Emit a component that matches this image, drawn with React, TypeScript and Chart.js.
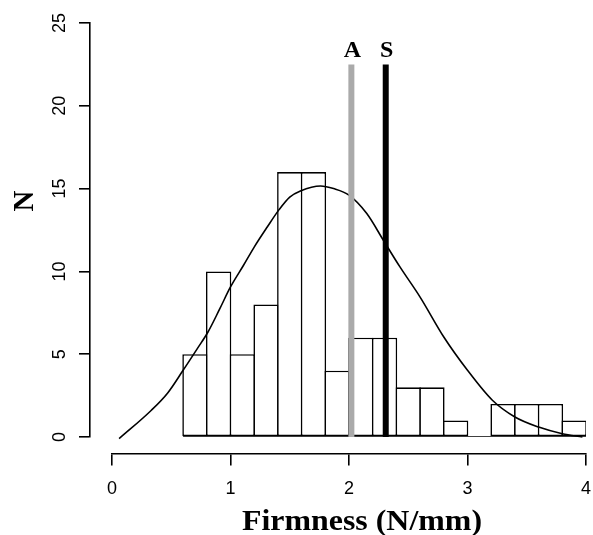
import { useEffect, useRef } from 'react';
import { Chart, registerables } from 'chart.js';

Chart.register(...registerables);

// Histogram bins (left edges), common width and counts
const binStarts = [0.6, 0.8, 1.0, 1.2, 1.4, 1.6, 1.8, 2.0, 2.2, 2.4, 2.6, 2.8, 3.0, 3.2, 3.4, 3.6, 3.8];
const binWidth = 0.2;
const binCounts = [5, 10, 5, 8, 16, 16, 4, 6, 6, 3, 3, 1, 0, 2, 2, 2, 1];

// Fitted density curve (scaled to counts)
const curveX = [0.06, 0.33, 0.47, 0.6, 0.72, 0.81, 0.91, 1.0, 1.11, 1.2, 1.31, 1.41, 1.5, 1.59, 1.76, 1.87, 2.0, 2.15, 2.29, 2.43, 2.6, 2.8, 3.0, 3.21, 3.4, 3.6, 3.8, 3.97];
const curveY = [-0.1, 1.6, 2.66, 4.03, 5.34, 6.34, 7.75, 9.06, 10.37, 11.47, 12.68, 13.73, 14.49, 14.86, 15.16, 15.0, 14.6, 13.49, 11.88, 10.27, 8.45, 6.04, 4.03, 2.22, 1.21, 0.6, 0.2, 0.0];

// Vertical reference lines
const markerNames = ['A', 'S'];
const markerValues = [2.02, 2.31];
const markerTop = 22.5;
const markerColors = ['#aaaaaa', '#000000'];

// Axes
const xRange = [0, 4];
const xStep = 1;
const yRange = [0, 25];
const yStep = 5;
const xTitle = 'Firmness (N/mm)';
const yTitle = 'N';

const serif = '"Liberation Serif", "Times New Roman", serif';
const sans = '"Liberation Sans", Arial, sans-serif';

const textPlugin = {
  id: 'rStyleText',
  afterDraw(chart: any) {
    const { ctx, scales } = chart;
    const xs = scales.x;
    const ys = scales.y;
    ctx.save();
    ctx.fillStyle = '#000';
    ctx.textAlign = 'center';
    ctx.textBaseline = 'alphabetic';
    ctx.font = `bold 24px ${serif}`;
    markerNames.forEach((name, i) => {
      ctx.fillText(name, xs.getPixelForValue(markerValues[i]) + 1, ys.getPixelForValue(markerTop) - 7);
    });
    ctx.font = `bold 29px ${serif}`;
    ctx.save();
    ctx.translate(362, 530);
    ctx.scale(1.1, 1);
    ctx.fillText(xTitle, 0, 0);
    ctx.restore();
    ctx.save();
    ctx.translate(33, 201);
    ctx.rotate(-Math.PI / 2);
    ctx.fillText(yTitle, 0, 0);
    ctx.restore();
    ctx.restore();
  },
};

export default function App() {
  const ref = useRef<HTMLCanvasElement>(null);

  useEffect(() => {
    const canvas = ref.current;
    if (!canvas) return;
    const tickFont = { family: sans, size: 18 };
    const barBorder = 1.6;

    const markerSets = markerValues.map((v, i) => ({
      type: 'line' as const,
      label: markerNames[i],
      data: [
        { x: v, y: yRange[0] },
        { x: v, y: markerTop },
      ],
      borderColor: markerColors[i],
      borderWidth: 6,
      borderCapStyle: 'butt' as const,
      pointRadius: 0,
      fill: false,
      order: 0,
      xAxisID: 'x',
      yAxisID: 'y',
    }));

    const chart = new Chart(canvas, {
      type: 'bar',
      data: {
        datasets: [
          ...markerSets,
          {
            type: 'line',
            label: 'density',
            data: curveX.map((x, i) => ({ x, y: curveY[i] })),
            borderColor: '#000',
            borderWidth: 1.6,
            pointRadius: 0,
            fill: false,
            cubicInterpolationMode: 'monotone',
            clip: false,
            order: 1,
            xAxisID: 'x',
            yAxisID: 'y',
          } as any,
          {
            type: 'line',
            label: 'base',
            data: [
              { x: binStarts[0], y: 0 },
              { x: binStarts[binStarts.length - 1] + binWidth, y: 0 },
            ],
            borderColor: '#000',
            borderWidth: barBorder,
            pointRadius: 0,
            fill: false,
            order: 2,
            xAxisID: 'x',
            yAxisID: 'y',
          } as any,
          {
            type: 'bar',
            label: 'N',
            data: binStarts.map((s, i) => ({ x: s + binWidth / 2, y: binCounts[i] })),
            backgroundColor: '#ffffff',
            borderColor: '#000000',
            borderWidth: barBorder,
            borderSkipped: false,
            categoryPercentage: 1,
            barPercentage: 1.068,
            order: 3,
            xAxisID: 'x',
            yAxisID: 'y',
          } as any,
        ],
      },
      options: {
        animation: false,
        responsive: false,
        events: [],
        layout: { padding: { left: 12, right: 7, top: 23, bottom: 98 } },
        plugins: {
          legend: { display: false },
          tooltip: { enabled: false },
          title: { display: false },
        },
        scales: {
          x: {
            type: 'linear',
            min: xRange[0],
            max: xRange[1],
            offset: false,
            position: { y: -1.02 } as any,
            border: { display: true, color: '#000', width: 1.6 },
            grid: { display: true, offset: false, drawOnChartArea: false, drawTicks: true, tickLength: 11, color: '#000', lineWidth: 1.6 },
            ticks: { stepSize: xStep, color: '#000', font: tickFont, padding: 13, maxRotation: 0, minRotation: 0 },
            afterFit: (s: any) => {
              s.paddingLeft = 0;
              s.paddingRight = 0;
            },
          },
          y: {
            type: 'linear',
            min: yRange[0],
            max: yRange[1],
            position: { x: -0.188 } as any,
            border: { display: true, color: '#000', width: 1.6 },
            grid: { display: true, drawOnChartArea: false, drawTicks: true, tickLength: 10, color: '#000', lineWidth: 1.6 },
            ticks: { stepSize: yStep, display: false },
            afterFit: (s: any) => {
              s.paddingTop = 0;
              s.paddingBottom = 0;
            },
          },
          yl: {
            type: 'linear',
            position: 'left',
            min: yRange[0],
            max: yRange[1],
            border: { display: false },
            grid: { display: false, drawTicks: false },
            ticks: {
              stepSize: yStep,
              color: '#000',
              font: tickFont,
              minRotation: 90,
              maxRotation: 90,
              crossAlign: 'center',
              padding: 42,
            },
            afterFit: (s: any) => {
              s.width = 100;
              s.paddingTop = 0;
              s.paddingBottom = 0;
            },
          },
        },
      } as any,
      plugins: [textPlugin],
    });

    return () => chart.destroy();
  }, []);

  return (
    <div style={{ position: 'absolute', left: 0, top: 0, width: 593, height: 535, background: '#fff' }}>
      <canvas ref={ref} width={593} height={535} style={{ display: 'block' }} />
    </div>
  );
}
